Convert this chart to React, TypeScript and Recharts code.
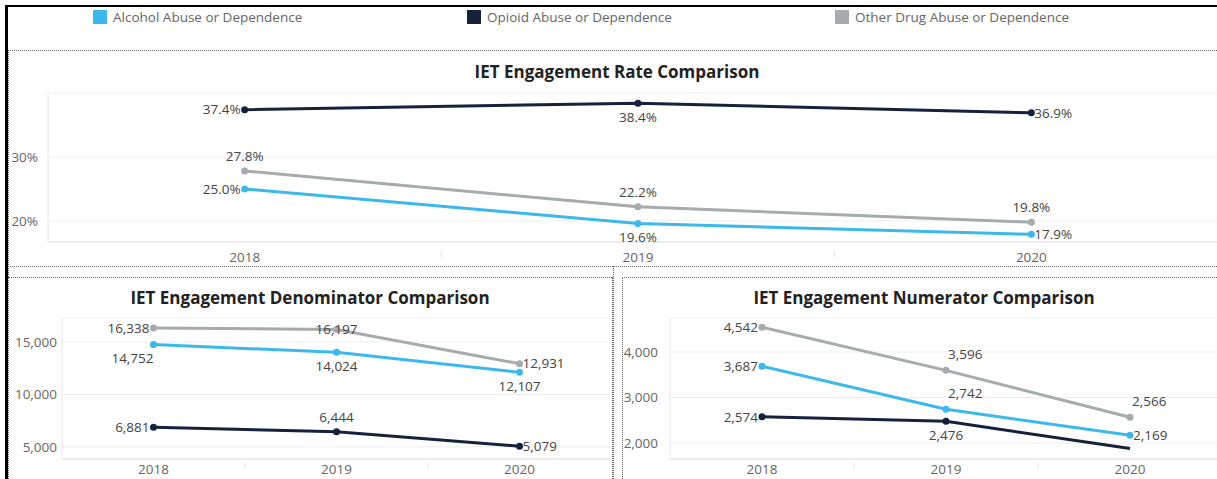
import React from "react"
import {
  LineChart,
  Line,
  XAxis,
  YAxis,
  CartesianGrid,
  LabelList
} from "recharts"

const years = [2018, 2019, 2020]
const seriesNames = ["Alcohol Abuse or Dependence", "Opioid Abuse or Dependence", "Other Drug Abuse or Dependence"]

const rateAlcohol = [25.0, 19.6, 17.9]
const rateOpioid = [37.4, 38.4, 36.9]
const rateOther = [27.8, 22.2, 19.8]

const denomAlcohol = [14752, 14024, 12107]
const denomOpioid = [6881, 6444, 5079]
const denomOther = [16338, 16197, 12931]

const numerAlcohol = [3687, 2742, 2169]
const numerOpioid = [2574, 2476, 1880]
const numerOther = [4542, 3596, 2566]

const rateTicks = [20, 30]
const denomTicks = [5000, 10000, 15000]
const numerTicks = [2000, 3000, 4000]

const colors = { alcohol: "#3DB8EA", opioid: "#16213C", other: "#A6ABAE" }

const FONT = "'Open Sans', 'Noto Sans', sans-serif"
const tickColor = "#666"
const labelColor = "#444"
const gridColor = "#EEEEEE"
const FS = 13.5

const build = (a: number[], o: number[], t: number[]) =>
  years.map((year, i) => ({ year, alcohol: a[i], opioid: o[i], other: t[i] }))

const rateData = build(rateAlcohol, rateOpioid, rateOther)
const denomData = build(denomAlcohol, denomOpioid, denomOther)
const numerData = build(numerAlcohol, numerOpioid, numerOther)

// where each point label sits relative to its dot
type Place = "left" | "right" | "above" | "below" | "center" | "belowLeft" | "aboveStart" | "none"

const makeLabel = (places: Place[], fmt: (v: number) => string) => (props: any) => {
  const { x, y, value, index } = props
  const place = places[index]
  if (place === "none" || x == null) return null
  let tx = x
  let ty = y
  let anchor: "start" | "middle" | "end" = "middle"
  if (place === "left") { tx = x - 4; anchor = "end" }
  if (place === "right") { tx = x + 3; anchor = "start" }
  if (place === "above") { ty = y - 15 }
  if (place === "below") { ty = y + 14 }
  if (place === "belowLeft") { tx = x; ty = y + 14; anchor = "end" }
  if (place === "aboveStart") { tx = x + 2; ty = y - 16; anchor = "start" }
  return (
    <text x={tx} y={ty} dy="0.35em" textAnchor={anchor} fill={labelColor}
      fontSize={FS} fontFamily={FONT}>
      {fmt(value)}
    </text>
  )
}

const pct = (v: number) => v.toFixed(1) + "%"
const num = (v: number) => v.toLocaleString("en-US")

const YearTick = (props: any) => {
  const { x, y, payload } = props
  const v = payload.value
  if (v % 1 !== 0) {
    return <line x1={x} x2={x} y1={y - 1} y2={y + 5} stroke="#E2E2E2" />
  }
  return (
    <text x={x} y={y} dy="0.71em" textAnchor="middle" fill={tickColor}
      fontSize={FS} fontFamily={FONT}>
      {v}
    </text>
  )
}

const dotFor = (color: string, hide: number[] = []) => (props: any) => {
  const { cx, cy, index } = props
  if (hide.includes(index) || cx == null) return <g key={index} />
  return <circle key={index} cx={cx} cy={cy} r={3.5} fill={color} stroke="none" />
}

type ChartProps = {
  data: any[]
  width: number
  height: number
  margin: { top: number; right: number; bottom: number; left: number }
  yWidth: number
  yMargin: number
  xMargin: number
  xHeight: number
  domain: [number, number]
  ticks: number[]
  yFmt: (v: number) => string
  fmt: (v: number) => string
  places: { alcohol: Place[]; opioid: Place[]; other: Place[] }
  hideDots?: { alcohol?: number[]; opioid?: number[]; other?: number[] }
}

function Panel(p: ChartProps) {
  const order: ("other" | "alcohol" | "opioid")[] = ["other", "alcohol", "opioid"]
  return (
    <LineChart width={p.width} height={p.height} data={p.data} margin={p.margin}>
      <CartesianGrid vertical={false} stroke={gridColor} />
      <XAxis
        dataKey="year"
        type="number"
        domain={[2017.5, 2020.5]}
        ticks={[2018, 2018.5, 2019, 2019.5, 2020]}
        interval={0}
        height={p.xHeight}
        tickSize={0}
        tickMargin={p.xMargin}
        tick={<YearTick />}
        axisLine={{ stroke: "#E2E2E2" }}
        tickLine={false}
      />
      <YAxis
        domain={p.domain}
        ticks={p.ticks}
        allowDataOverflow
        width={p.yWidth}
        tickSize={0}
        tickMargin={p.yMargin}
        tickFormatter={p.yFmt}
        tick={{ fill: tickColor, fontSize: FS, fontFamily: FONT }}
        axisLine={{ stroke: "#E6E6E6" }}
        tickLine={false}
      />
      {order.map((k) => (
        <Line
          key={k}
          dataKey={k}
          type="linear"
          stroke={colors[k]}
          strokeWidth={3}
          dot={dotFor(colors[k], p.hideDots?.[k])}
          activeDot={false}
          isAnimationActive={false}
        >
          <LabelList dataKey={k} content={makeLabel(p.places[k], p.fmt)} />
        </Line>
      ))}
    </LineChart>
  )
}

const titleStyle: React.CSSProperties = {
  position: "absolute",
  fontFamily: FONT,
  fontWeight: 700,
  fontSize: 17,
  color: "#222",
  textAlign: "center",
  whiteSpace: "nowrap"
}

const dotted = (s: React.CSSProperties): React.CSSProperties => ({
  position: "absolute",
  borderColor: "#666",
  borderStyle: "dotted",
  borderWidth: 0,
  ...s
})

export default function App() {
  return (
    <div style={{ position: "fixed", left: 0, top: 0, width: 1217, height: 479, overflow: "hidden", background: "#fff" }}>
      {/* frame */}
      <div style={{ position: "absolute", left: 5, top: 5, width: 1212, height: 2, background: "#000" }} />
      <div style={{ position: "absolute", left: 5, top: 5, width: 3, height: 474, background: "#000" }} />

      {/* legend */}
      {seriesNames.map((name, i) => {
        const left = [93, 467, 835][i]
        const c = [colors.alcohol, colors.opioid, colors.other][i]
        return (
          <div key={name} style={{ position: "absolute", left, top: 8, display: "flex", alignItems: "center", fontFamily: FONT, fontSize: 13.5, color: "#666" }}>
            <span style={{ display: "inline-block", width: 14, height: 14, background: c, marginRight: 6 }} />
            {name}
          </div>
        )
      })}

      {/* panel borders */}
      <div style={dotted({ left: 8, top: 50, width: 1209, height: 0, borderTopWidth: 1 })} />
      <div style={dotted({ left: 8, top: 50, width: 0, height: 429, borderLeftWidth: 1 })} />
      <div style={dotted({ left: 8, top: 266, width: 1209, height: 0, borderTopWidth: 1 })} />
      <div style={dotted({ left: 8, top: 277, width: 604, height: 0, borderTopWidth: 1 })} />
      <div style={dotted({ left: 612, top: 277, width: 0, height: 202, borderLeftWidth: 1 })} />
      <div style={dotted({ left: 613, top: 266, width: 0, height: 213, borderLeftWidth: 1 })} />
      <div style={dotted({ left: 622, top: 277, width: 595, height: 0, borderTopWidth: 1 })} />
      <div style={dotted({ left: 622, top: 277, width: 0, height: 202, borderLeftWidth: 1 })} />

      {/* top chart */}
      <div style={{ ...titleStyle, left: 0, width: 1234, top: 60 }}>IET Engagement Rate Comparison</div>
      <div style={{ position: "absolute", left: 0, top: 60 }}>
        <Panel
          data={rateData}
          width={1240}
          height={220}
          margin={{ top: 33, right: 12, bottom: 0, left: 0 }}
          yWidth={48}
          yMargin={10}
          xMargin={10}
          xHeight={38}
          domain={[16.7, 40]}
          ticks={rateTicks}
          yFmt={(v) => v + "%"}
          fmt={pct}
          places={{
            alcohol: ["left", "below", "right"],
            opioid: ["left", "below", "right"],
            other: ["above", "above", "above"]
          }}
        />
      </div>

      {/* bottom left */}
      <div style={{ ...titleStyle, left: 8, width: 604, top: 286 }}>IET Engagement Denominator Comparison</div>
      <div style={{ position: "absolute", left: 0, top: 300 }}>
        <Panel
          data={denomData}
          width={615}
          height={200}
          margin={{ top: 18, right: 4, bottom: 0, left: 0 }}
          yWidth={62}
          yMargin={5}
          xMargin={5}
          xHeight={41}
          domain={[3857, 17285]}
          ticks={denomTicks}
          yFmt={num}
          fmt={num}
          places={{
            alcohol: ["belowLeft", "below", "below"],
            opioid: ["left", "above", "right"],
            other: ["left", "center", "right"]
          }}
        />
      </div>

      {/* bottom right */}
      <div style={{ ...titleStyle, left: 622, width: 604, top: 286 }}>IET Engagement Numerator Comparison</div>
      <div style={{ position: "absolute", left: 613, top: 300 }}>
        <Panel
          data={numerData}
          width={615}
          height={200}
          margin={{ top: 18, right: 6, bottom: 0, left: 0 }}
          yWidth={57}
          yMargin={12}
          xMargin={5}
          xHeight={41}
          domain={[1648, 4747]}
          ticks={numerTicks}
          yFmt={num}
          fmt={num}
          places={{
            alcohol: ["left", "aboveStart", "right"],
            opioid: ["left", "below", "none"],
            other: ["left", "aboveStart", "aboveStart"]
          }}
          hideDots={{ opioid: [2] }}
        />
      </div>
    </div>
  )
}
